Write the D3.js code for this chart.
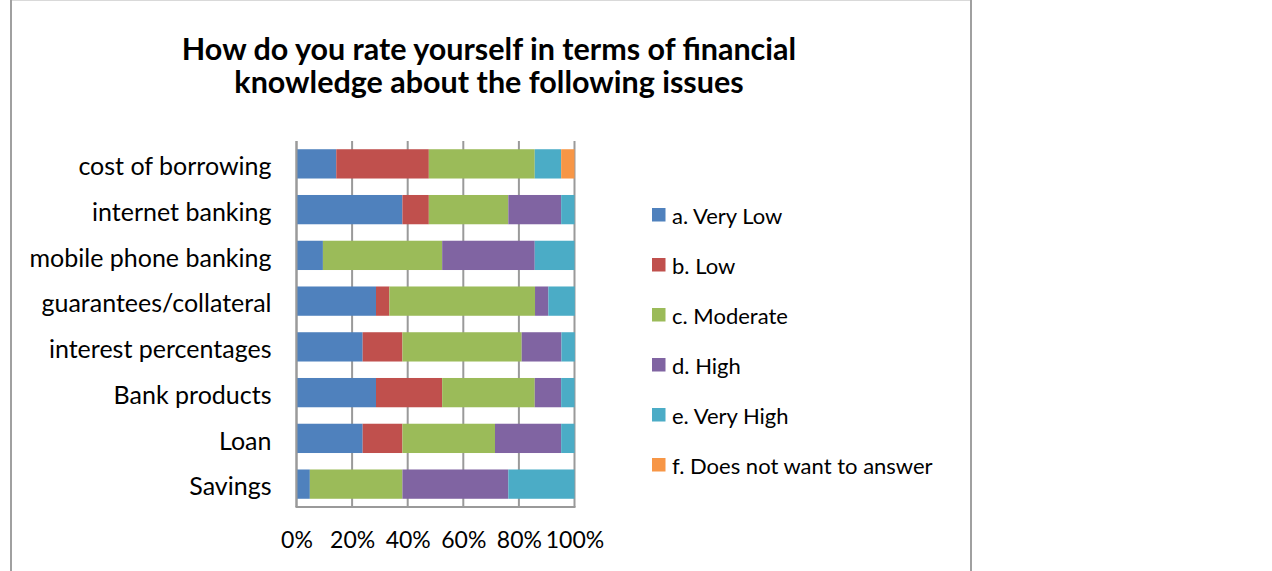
<!DOCTYPE html>
<html>
<head>
<meta charset="utf-8">
<script src="https://cdn.jsdelivr.net/npm/d3@7"></script>
<style>
  html, body { margin: 0; padding: 0; background: #fff; }
  svg { display: block; font-family: Lato, "Noto Sans", sans-serif; }
</style>
</head>
<body>
<svg id="chart" width="1272" height="571"></svg>
<script>
// Survey: self-rated financial knowledge, share of respondents (%) per topic
const categories = [
  "cost of borrowing", "internet banking", "mobile phone banking",
  "guarantees/collateral", "interest percentages", "Bank products", "Loan", "Savings"
];
const seriesNames = [
  "a. Very Low", "b. Low", "c. Moderate", "d. High", "e. Very High", "f. Does not want to answer"
];
const veryLow  = [14.3, 38.1,  9.5, 28.6, 23.8, 28.6, 23.8,  4.8];
const low      = [33.3,  9.5,  0.0,  4.8, 14.3, 23.8, 14.3,  0.0];
const moderate = [38.1, 28.6, 42.9, 52.4, 42.9, 33.3, 33.3, 33.3];
const high     = [ 0.0, 19.0, 33.3,  4.8, 14.3,  9.5, 23.8, 38.1];
const veryHigh = [ 9.5,  4.8, 14.3,  9.5,  4.8,  4.8,  4.8, 23.8];
const noAnswer = [ 4.8,  0.0,  0.0,  0.0,  0.0,  0.0,  0.0,  0.0];
const xTicks = [0, 20, 40, 60, 80, 100];

const colors = ["#4F81BD", "#C0504D", "#9BBB59", "#8064A2", "#4BACC6", "#F79646"];
const seriesValues = [veryLow, low, moderate, high, veryHigh, noAnswer];

const rows = categories.map((c, i) => {
  const r = { category: c };
  seriesNames.forEach((s, k) => { r[s] = seriesValues[k][i]; });
  return r;
});

const svg = d3.select("#chart");

// chart frame
svg.append("line").attr("x1", 10).attr("x2", 972).attr("y1", 0.5).attr("y2", 0.5)
  .attr("stroke", "#d9d9d9").attr("stroke-width", 1);
svg.append("line").attr("x1", 11).attr("x2", 11).attr("y1", 0).attr("y2", 571)
  .attr("stroke", "#a0a0a0").attr("stroke-width", 2);
svg.append("line").attr("x1", 971).attr("x2", 971).attr("y1", 0).attr("y2", 571)
  .attr("stroke", "#a0a0a0").attr("stroke-width", 2);

// title
const title = svg.append("text").attr("text-anchor", "middle")
  .attr("font-weight", "bold").attr("font-size", 30.5).attr("fill", "#000");
title.append("tspan").attr("x", 489).attr("y", 60).text("How do you rate yourself in terms of financial");
title.append("tspan").attr("x", 489).attr("y", 93).text("knowledge about the following issues");

const plot = { left: 296.5, right: 574.5, top: 141, bottom: 507 };

const x = d3.scaleLinear().domain([0, 100]).range([plot.left, plot.right]);
const y = d3.scaleBand().domain(categories).range([plot.top, plot.bottom])
  .paddingInner(0.36).paddingOuter(0.18);

// vertical gridlines
svg.append("g").selectAll("line").data(xTicks).join("line")
  .attr("x1", d => x(d)).attr("x2", d => x(d))
  .attr("y1", plot.top).attr("y2", plot.bottom)
  .attr("stroke", "#9a9a9a").attr("stroke-width", 2);

// stacked bars
const stack = d3.stack().keys(seriesNames);
const layers = stack(rows);
svg.append("g").selectAll("g").data(layers).join("g")
  .attr("fill", (d, i) => colors[i])
  .selectAll("rect").data(d => d).join("rect")
  .attr("x", d => x(d[0]))
  .attr("width", d => Math.max(0, x(d[1]) - x(d[0])))
  .attr("y", d => y(d.data.category))
  .attr("height", y.bandwidth());

// axes lines
svg.append("line").attr("x1", plot.left).attr("x2", plot.left)
  .attr("y1", plot.top).attr("y2", plot.bottom)
  .attr("stroke", "#9a9a9a").attr("stroke-width", 2);
svg.append("line").attr("x1", plot.left - 1).attr("x2", plot.right + 1)
  .attr("y1", plot.bottom).attr("y2", plot.bottom)
  .attr("stroke", "#9a9a9a").attr("stroke-width", 2);

// category labels
const yAxis = d3.axisLeft(y).tickSize(0).tickPadding(25);
const gy = svg.append("g").attr("transform", `translate(${plot.left},0)`).call(yAxis);
gy.select(".domain").remove();
gy.selectAll("text").attr("font-size", 25).attr("font-family", "Lato, sans-serif")
  .attr("dy", "0.45em").attr("fill", "#000");

// percentage labels
const xAxis = d3.axisBottom(x).tickValues(xTicks).tickFormat(d => d + "%").tickSize(0).tickPadding(25);
const gx = svg.append("g").attr("transform", `translate(0,${plot.bottom})`).call(xAxis);
gx.select(".domain").remove();
gx.selectAll("text").attr("font-size", 23).attr("font-family", "Lato, sans-serif").attr("fill", "#000");

// legend
const legend = svg.append("g");
const items = legend.selectAll("g").data(seriesNames).join("g")
  .attr("transform", (d, i) => `translate(652,${208 + i * 50})`);
items.append("rect").attr("width", 13.5).attr("height", 13.5).attr("fill", (d, i) => colors[i]);
items.append("text").attr("x", 20).attr("y", 16).attr("font-size", 22).attr("fill", "#000").text(d => d);
</script>
</body>
</html>
